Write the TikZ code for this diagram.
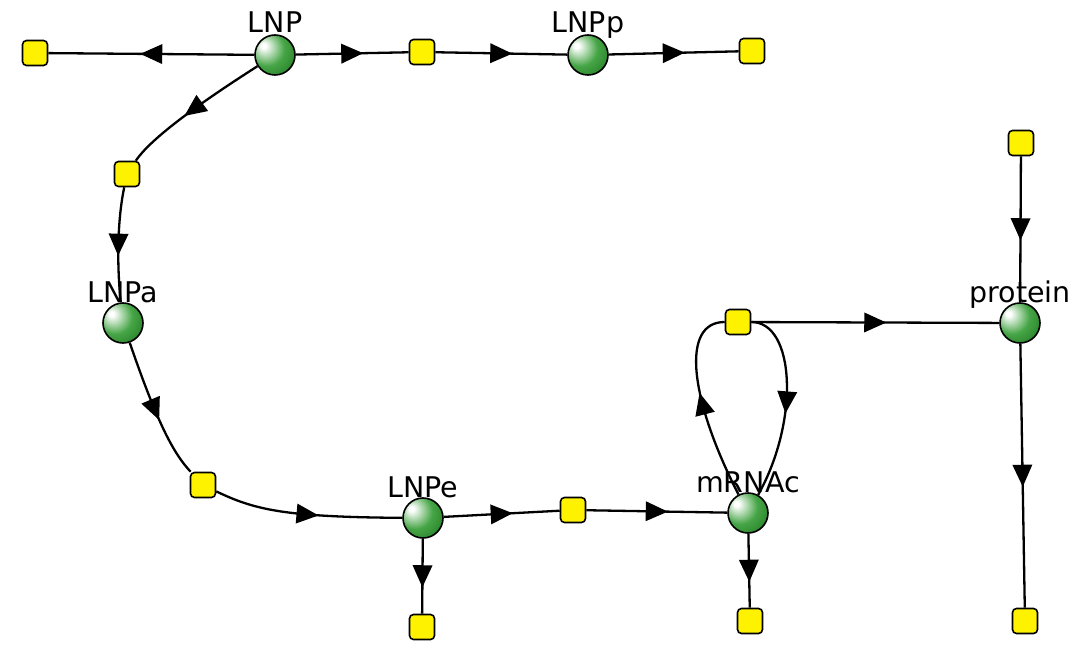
\documentclass[tikz,border=0pt]{standalone}
\usepackage{fontspec}
\setmainfont{DejaVu Sans}
\usetikzlibrary{decorations.markings}
\definecolor{ballmid}{RGB}{70,165,70}
\definecolor{balledge}{RGB}{15,100,15}
\pgfdeclareradialshading{myball}{\pgfpoint{-15bp}{12bp}}{color(0bp)=(white); color(3bp)=(white); color(22bp)=(ballmid); color(50bp)=(balledge); color(70bp)=(balledge)}
\tikzset{
  species/.style={circle, minimum size=40pt, inner sep=0pt, draw=black, line width=1.6pt, shading=myball},
  reaction/.style={rectangle, minimum size=25pt, inner sep=0pt, rounded corners=4pt, draw=black, line width=1.6pt, fill=yellow},
  lbl/.style={anchor=base, inner sep=0pt, font=\fontsize{28.5}{34}\selectfont},
  edge/.style={draw=black, line width=2.3pt, postaction={decorate}, decoration={markings, mark=at position 0.5 with {\fill[black] (-11pt,-10pt) -- (11pt,0pt) -- (-11pt,10pt) -- cycle;}}}
}
\begin{document}
\begin{tikzpicture}[x=1pt, y=-1pt]
\useasboundingbox (0,0) rectangle (1081,652);
% species
\node[species] (LNP) at (275,55) {};
\node[species] (LNPp) at (588,55) {};
\node[species] (LNPa) at (123,323) {};
\node[species] (LNPe) at (423,518) {};
\node[species] (mRNAc) at (748,513) {};
\node[species] (protein) at (1020,323) {};
% labels
\node[lbl] (tLNP) at (275,33) {LNP};
\node[lbl] (tLNPp) at (588,33) {LNPp};
\node[lbl] (tLNPa) at (123,302) {LNPa};
\node[lbl] (tLNPe) at (423,497) {LNPe};
\node[lbl] (tmRNAc) at (748,492) {mRNAc};
\node[lbl] (tprotein) at (1020,302) {protein};
% reactions
\node[reaction] (s1) at (35,53) {};
\node[reaction] (s2) at (422,52) {};
\node[reaction] (s3) at (752,51) {};
\node[reaction] (s4) at (127,174) {};
\node[reaction] (s5) at (203,485) {};
\node[reaction] (s6) at (422,627) {};
\node[reaction] (s7) at (573,510) {};
\node[reaction] (s8) at (750,621) {};
\node[reaction] (s9) at (738,322) {};
\node[reaction] (s10) at (1021,143) {};
\node[reaction] (s11) at (1025,621) {};
% edges
\path[edge] (LNP) -- (s1);
\path[edge] (LNP) -- (s2);
\path[edge] (s2) -- (LNPp);
\path[edge] (LNPp) -- (s3);
\path[edge] (LNP) .. controls (214,94) and (153,135) .. (s4);
\path[edge] (s4) .. controls (117,222) and (117,267) .. (LNPa);
\path[edge] (LNPa) .. controls (159,428) and (175,455) .. (s5);
\path[edge] (s5) .. controls (255,510) and (285,517) .. (LNPe);
\path[edge] (LNPe) -- (s6);
\path[edge] (LNPe) -- (s7);
\path[edge] (s7) -- (mRNAc);
\path[edge] (mRNAc) -- (s8);
\path[edge] (mRNAc) .. controls (690,400) and (680,322) .. (s9);
\path[edge] (s9) .. controls (795,322) and (800,420) .. (mRNAc);
\path[edge] (s9) -- (protein);
\path[edge] (s10) -- (protein);
\path[edge] (protein) -- (s11);
\end{tikzpicture}
\end{document}
